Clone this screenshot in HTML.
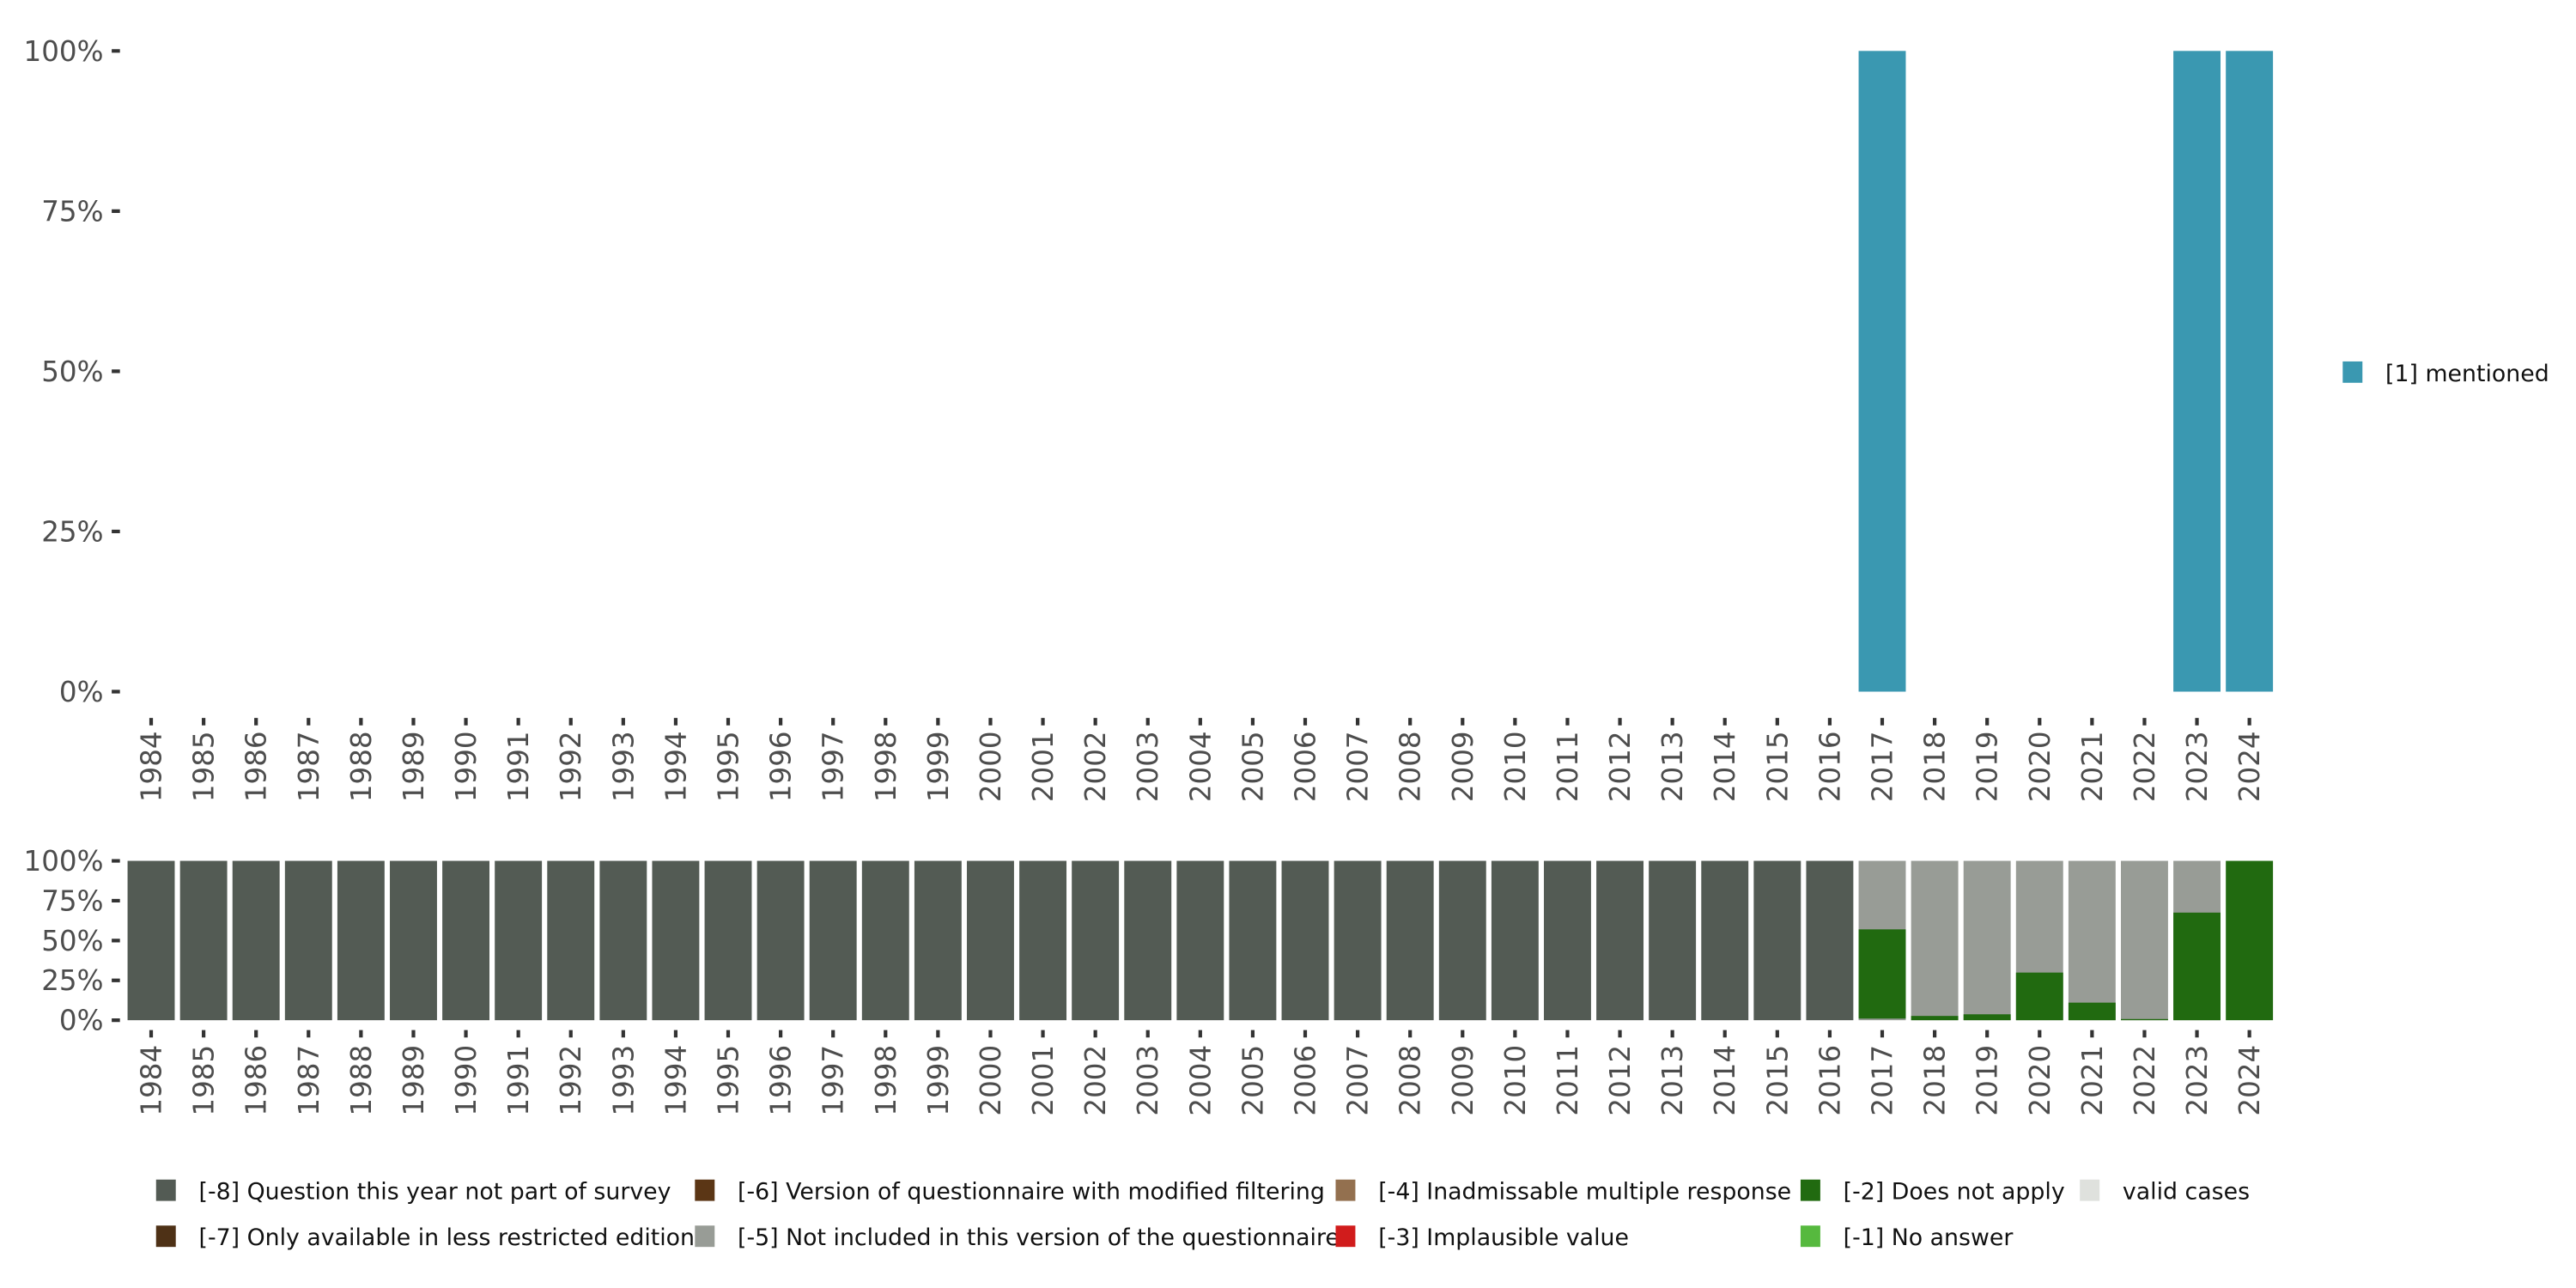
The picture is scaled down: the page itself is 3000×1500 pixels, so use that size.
<!DOCTYPE html>
<html><head><meta charset="utf-8"><style>html,body{margin:0;padding:0;background:#fff}svg{display:block}text{font-family:"DejaVu Sans","Liberation Sans",sans-serif;fill:#4d4d4d}</style></head><body>
<svg width="3000" height="1500" viewBox="0 0 1568 784" xmlns="http://www.w3.org/2000/svg">
<g font-size="17" text-anchor="end">
<text x="63" y="37">100%</text><text x="63" y="134.5">75%</text><text x="63" y="232">50%</text><text x="63" y="329.5">25%</text><text x="63" y="427">0%</text>
<text x="63" y="530">100%</text><text x="63" y="554.25">75%</text><text x="63" y="578.5">50%</text><text x="63" y="602.75">25%</text><text x="63" y="627">0%</text>
</g>
<g stroke="#333" stroke-width="2.2">
<path d="M68 31H73M68 128.5H73M68 226H73M68 323.5H73M68 421H73M68 524H73M68 548.25H73M68 572.5H73M68 596.75H73M68 621H73"/>
</g>
<g fill="#3a98b1">
<rect x="1131.34" y="31" width="28.7" height="390"/>
<rect x="1322.92" y="31" width="28.7" height="390"/>
<rect x="1354.85" y="31" width="28.7" height="390"/>
</g>
<defs>
<g id="t"><path d="M0 437V441.5M0 627V631.5" stroke="#333" stroke-width="2.2"/></g>
<rect id="d" x="-14.35" y="524" width="28.7" height="97" fill="#535b54"/>
</defs>
<g font-size="17" text-anchor="end">
<g transform="translate(92)"><use href="#d"/><use href="#t"/><text transform="translate(6,445) rotate(-90)">1984</text><text transform="translate(6,636) rotate(-90)">1984</text></g>
<g transform="translate(123.93)"><use href="#d"/><use href="#t"/><text transform="translate(6,445) rotate(-90)">1985</text><text transform="translate(6,636) rotate(-90)">1985</text></g>
<g transform="translate(155.86)"><use href="#d"/><use href="#t"/><text transform="translate(6,445) rotate(-90)">1986</text><text transform="translate(6,636) rotate(-90)">1986</text></g>
<g transform="translate(187.79)"><use href="#d"/><use href="#t"/><text transform="translate(6,445) rotate(-90)">1987</text><text transform="translate(6,636) rotate(-90)">1987</text></g>
<g transform="translate(219.72)"><use href="#d"/><use href="#t"/><text transform="translate(6,445) rotate(-90)">1988</text><text transform="translate(6,636) rotate(-90)">1988</text></g>
<g transform="translate(251.65)"><use href="#d"/><use href="#t"/><text transform="translate(6,445) rotate(-90)">1989</text><text transform="translate(6,636) rotate(-90)">1989</text></g>
<g transform="translate(283.58)"><use href="#d"/><use href="#t"/><text transform="translate(6,445) rotate(-90)">1990</text><text transform="translate(6,636) rotate(-90)">1990</text></g>
<g transform="translate(315.51)"><use href="#d"/><use href="#t"/><text transform="translate(6,445) rotate(-90)">1991</text><text transform="translate(6,636) rotate(-90)">1991</text></g>
<g transform="translate(347.44)"><use href="#d"/><use href="#t"/><text transform="translate(6,445) rotate(-90)">1992</text><text transform="translate(6,636) rotate(-90)">1992</text></g>
<g transform="translate(379.37)"><use href="#d"/><use href="#t"/><text transform="translate(6,445) rotate(-90)">1993</text><text transform="translate(6,636) rotate(-90)">1993</text></g>
<g transform="translate(411.3)"><use href="#d"/><use href="#t"/><text transform="translate(6,445) rotate(-90)">1994</text><text transform="translate(6,636) rotate(-90)">1994</text></g>
<g transform="translate(443.23)"><use href="#d"/><use href="#t"/><text transform="translate(6,445) rotate(-90)">1995</text><text transform="translate(6,636) rotate(-90)">1995</text></g>
<g transform="translate(475.16)"><use href="#d"/><use href="#t"/><text transform="translate(6,445) rotate(-90)">1996</text><text transform="translate(6,636) rotate(-90)">1996</text></g>
<g transform="translate(507.09)"><use href="#d"/><use href="#t"/><text transform="translate(6,445) rotate(-90)">1997</text><text transform="translate(6,636) rotate(-90)">1997</text></g>
<g transform="translate(539.02)"><use href="#d"/><use href="#t"/><text transform="translate(6,445) rotate(-90)">1998</text><text transform="translate(6,636) rotate(-90)">1998</text></g>
<g transform="translate(570.95)"><use href="#d"/><use href="#t"/><text transform="translate(6,445) rotate(-90)">1999</text><text transform="translate(6,636) rotate(-90)">1999</text></g>
<g transform="translate(602.88)"><use href="#d"/><use href="#t"/><text transform="translate(6,445) rotate(-90)">2000</text><text transform="translate(6,636) rotate(-90)">2000</text></g>
<g transform="translate(634.81)"><use href="#d"/><use href="#t"/><text transform="translate(6,445) rotate(-90)">2001</text><text transform="translate(6,636) rotate(-90)">2001</text></g>
<g transform="translate(666.74)"><use href="#d"/><use href="#t"/><text transform="translate(6,445) rotate(-90)">2002</text><text transform="translate(6,636) rotate(-90)">2002</text></g>
<g transform="translate(698.67)"><use href="#d"/><use href="#t"/><text transform="translate(6,445) rotate(-90)">2003</text><text transform="translate(6,636) rotate(-90)">2003</text></g>
<g transform="translate(730.6)"><use href="#d"/><use href="#t"/><text transform="translate(6,445) rotate(-90)">2004</text><text transform="translate(6,636) rotate(-90)">2004</text></g>
<g transform="translate(762.53)"><use href="#d"/><use href="#t"/><text transform="translate(6,445) rotate(-90)">2005</text><text transform="translate(6,636) rotate(-90)">2005</text></g>
<g transform="translate(794.46)"><use href="#d"/><use href="#t"/><text transform="translate(6,445) rotate(-90)">2006</text><text transform="translate(6,636) rotate(-90)">2006</text></g>
<g transform="translate(826.39)"><use href="#d"/><use href="#t"/><text transform="translate(6,445) rotate(-90)">2007</text><text transform="translate(6,636) rotate(-90)">2007</text></g>
<g transform="translate(858.32)"><use href="#d"/><use href="#t"/><text transform="translate(6,445) rotate(-90)">2008</text><text transform="translate(6,636) rotate(-90)">2008</text></g>
<g transform="translate(890.25)"><use href="#d"/><use href="#t"/><text transform="translate(6,445) rotate(-90)">2009</text><text transform="translate(6,636) rotate(-90)">2009</text></g>
<g transform="translate(922.18)"><use href="#d"/><use href="#t"/><text transform="translate(6,445) rotate(-90)">2010</text><text transform="translate(6,636) rotate(-90)">2010</text></g>
<g transform="translate(954.11)"><use href="#d"/><use href="#t"/><text transform="translate(6,445) rotate(-90)">2011</text><text transform="translate(6,636) rotate(-90)">2011</text></g>
<g transform="translate(986.04)"><use href="#d"/><use href="#t"/><text transform="translate(6,445) rotate(-90)">2012</text><text transform="translate(6,636) rotate(-90)">2012</text></g>
<g transform="translate(1017.97)"><use href="#d"/><use href="#t"/><text transform="translate(6,445) rotate(-90)">2013</text><text transform="translate(6,636) rotate(-90)">2013</text></g>
<g transform="translate(1049.9)"><use href="#d"/><use href="#t"/><text transform="translate(6,445) rotate(-90)">2014</text><text transform="translate(6,636) rotate(-90)">2014</text></g>
<g transform="translate(1081.83)"><use href="#d"/><use href="#t"/><text transform="translate(6,445) rotate(-90)">2015</text><text transform="translate(6,636) rotate(-90)">2015</text></g>
<g transform="translate(1113.76)"><use href="#d"/><use href="#t"/><text transform="translate(6,445) rotate(-90)">2016</text><text transform="translate(6,636) rotate(-90)">2016</text></g>
<g transform="translate(1145.69)"><rect x="-14.35" y="524" width="28.7" height="97" fill="#989c96"/><rect x="-14.35" y="565.7" width="28.7" height="54.3" fill="#216a10"/><use href="#t"/><text transform="translate(6,445) rotate(-90)">2017</text><text transform="translate(6,636) rotate(-90)">2017</text></g>
<g transform="translate(1177.62)"><rect x="-14.35" y="524" width="28.7" height="97" fill="#989c96"/><rect x="-14.35" y="618.4" width="28.7" height="2.6" fill="#216a10"/><use href="#t"/><text transform="translate(6,445) rotate(-90)">2018</text><text transform="translate(6,636) rotate(-90)">2018</text></g>
<g transform="translate(1209.55)"><rect x="-14.35" y="524" width="28.7" height="97" fill="#989c96"/><rect x="-14.35" y="617.4" width="28.7" height="3.6" fill="#216a10"/><use href="#t"/><text transform="translate(6,445) rotate(-90)">2019</text><text transform="translate(6,636) rotate(-90)">2019</text></g>
<g transform="translate(1241.48)"><rect x="-14.35" y="524" width="28.7" height="97" fill="#989c96"/><rect x="-14.35" y="592" width="28.7" height="29" fill="#216a10"/><use href="#t"/><text transform="translate(6,445) rotate(-90)">2020</text><text transform="translate(6,636) rotate(-90)">2020</text></g>
<g transform="translate(1273.41)"><rect x="-14.35" y="524" width="28.7" height="97" fill="#989c96"/><rect x="-14.35" y="610.3" width="28.7" height="10.7" fill="#216a10"/><use href="#t"/><text transform="translate(6,445) rotate(-90)">2021</text><text transform="translate(6,636) rotate(-90)">2021</text></g>
<g transform="translate(1305.34)"><rect x="-14.35" y="524" width="28.7" height="97" fill="#989c96"/><rect x="-14.35" y="620.3" width="28.7" height="0.7" fill="#216a10"/><use href="#t"/><text transform="translate(6,445) rotate(-90)">2022</text><text transform="translate(6,636) rotate(-90)">2022</text></g>
<g transform="translate(1337.27)"><rect x="-14.35" y="524" width="28.7" height="97" fill="#989c96"/><rect x="-14.35" y="555.5" width="28.7" height="65.5" fill="#216a10"/><use href="#t"/><text transform="translate(6,445) rotate(-90)">2023</text><text transform="translate(6,636) rotate(-90)">2023</text></g>
<g transform="translate(1369.2)"><rect x="-14.35" y="524" width="28.7" height="97" fill="#216a10"/><use href="#t"/><text transform="translate(6,445) rotate(-90)">2024</text><text transform="translate(6,636) rotate(-90)">2024</text></g>
</g>
<rect x="1426" y="220" width="12" height="13" fill="#3a98b1"/>
<text x="1452" y="232" font-size="14" style="fill:#111">[1] mentioned</text>
<g font-size="14">
<rect x="95" y="718" width="12" height="13" fill="#535b54"/><text x="121" y="730" style="fill:#111">[-8] Question this year not part of survey</text>
<rect x="95" y="746" width="12" height="13" fill="#4e3116"/><text x="121" y="758" style="fill:#111">[-7] Only available in less restricted edition</text>
<rect x="423" y="718" width="12" height="13" fill="#5b3615"/><text x="449" y="730" style="fill:#111">[-6] Version of questionnaire with modified filtering</text>
<rect x="423" y="746" width="12" height="13" fill="#989c96"/><text x="449" y="758" style="fill:#111">[-5] Not included in this version of the questionnaire</text>
<rect x="813" y="718" width="12" height="13" fill="#93704f"/><text x="839" y="730" style="fill:#111">[-4] Inadmissable multiple response</text>
<rect x="813" y="746" width="12" height="13" fill="#d11c1c"/><text x="839" y="758" style="fill:#111">[-3] Implausible value</text>
<rect x="1096" y="718" width="12" height="13" fill="#216a10"/><text x="1122" y="730" style="fill:#111">[-2] Does not apply</text>
<rect x="1096" y="746" width="12" height="13" fill="#56b93e"/><text x="1122" y="758" style="fill:#111">[-1] No answer</text>
<rect x="1266" y="718" width="12" height="13" fill="#dfe1dd"/><text x="1292" y="730" style="fill:#111">valid cases</text>
</g>
</svg>
</body></html>
